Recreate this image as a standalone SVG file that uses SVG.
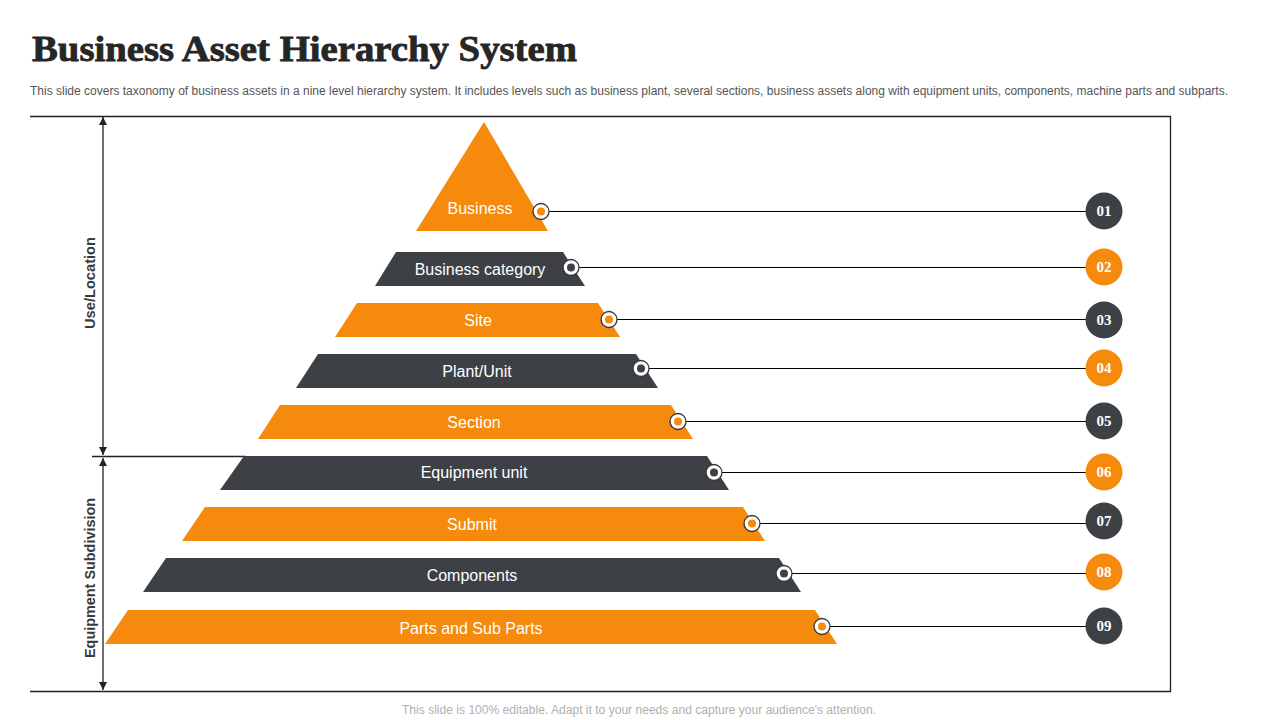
<svg xmlns="http://www.w3.org/2000/svg" width="1280" height="720" viewBox="0 0 1280 720">
<defs>
<style>
.or{fill:#F68A0D}
.dk{fill:#3D4145}
.lbl{font-family:"Liberation Sans",Arial,sans-serif;font-size:16px;fill:#ffffff;text-anchor:middle}
.num{font-family:"Liberation Serif","Times New Roman",serif;font-size:15px;font-weight:bold;fill:#ffffff;text-anchor:middle}
.side{font-family:"Liberation Sans",Arial,sans-serif;font-size:14px;font-weight:bold;fill:#3a3a3a;text-anchor:middle}
.frame{stroke:#222;stroke-width:1.3;fill:none}
.conn{stroke:#000;stroke-width:1;fill:none}
.ring{fill:#ffffff;stroke:#333;stroke-width:1.3}
</style>
<marker id="ah" viewBox="0 0 10 10" refX="10" refY="5" markerWidth="8" markerHeight="8" markerUnits="userSpaceOnUse" orient="auto-start-reverse">
<path d="M0,0 L10,5 L0,10 Z" fill="#222"/>
</marker>
</defs>
<rect width="1280" height="720" fill="#ffffff"/>

<text x="32" y="61" font-family="'Liberation Serif','Times New Roman',serif" font-size="36" font-weight="bold" fill="#262626" stroke="#262626" stroke-width="0.8" textLength="545" lengthAdjust="spacingAndGlyphs">Business Asset Hierarchy System</text>
<text x="30" y="95" font-family="'Liberation Sans',Arial,sans-serif" font-size="12" fill="#555555" textLength="1198" lengthAdjust="spacingAndGlyphs">This slide covers taxonomy of business assets in a nine level hierarchy system. It includes levels such as business plant, several sections, business assets along with equipment units, components, machine parts and subparts.</text>

<g id="frame">
<path class="frame" d="M30,116.5 H1170.5 V691.5 H30"/>
<line class="frame" x1="92" y1="456.5" x2="246" y2="456.5"/>
</g>

<g id="axis">
<line x1="103" y1="117" x2="103" y2="455" stroke="#222" stroke-width="1.3" marker-start="url(#ah)" marker-end="url(#ah)"/>
<line x1="103" y1="458" x2="103" y2="690" stroke="#222" stroke-width="1.3" marker-start="url(#ah)" marker-end="url(#ah)"/>
<text class="side" transform="translate(95,283) rotate(-90)" textLength="92" lengthAdjust="spacingAndGlyphs">Use/Location</text>
<text class="side" transform="translate(95,578) rotate(-90)" textLength="160" lengthAdjust="spacingAndGlyphs">Equipment Subdivision</text>
</g>

<g id="connectors">
<line class="conn" x1="549" y1="211.5" x2="1086" y2="211.5"/>
<line class="conn" x1="579" y1="267.5" x2="1086" y2="267.5"/>
<line class="conn" x1="617" y1="319.5" x2="1086" y2="319.5"/>
<line class="conn" x1="649" y1="368.5" x2="1086" y2="368.5"/>
<line class="conn" x1="686" y1="421.5" x2="1086" y2="421.5"/>
<line class="conn" x1="722" y1="472.5" x2="1086" y2="472.5"/>
<line class="conn" x1="760" y1="523.5" x2="1086" y2="523.5"/>
<line class="conn" x1="792" y1="573.5" x2="1086" y2="573.5"/>
<line class="conn" x1="830" y1="626.5" x2="1086" y2="626.5"/>
</g>

<g id="level1">
<polygon class="or" points="484,122 548,231 416,231"/>
<text class="lbl" x="480" y="214">Business</text>
<circle class="ring" cx="541" cy="211.5" r="8"/><circle class="or" cx="541" cy="211.5" r="4"/>
</g>
<g id="level2">
<polygon class="dk" points="396,252 563,252 585,286 375,286"/>
<text class="lbl" x="480" y="275">Business category</text>
<circle class="ring" cx="571" cy="267.5" r="8"/><circle class="dk" cx="571" cy="267.5" r="4"/>
</g>
<g id="level3">
<polygon class="or" points="357,303 598,303 620,337 335,337"/>
<text class="lbl" x="478" y="326">Site</text>
<circle class="ring" cx="609" cy="319.5" r="8"/><circle class="or" cx="609" cy="319.5" r="4"/>
</g>
<g id="level4">
<polygon class="dk" points="318,354 636,354 658,388 296,388"/>
<text class="lbl" x="477" y="377">Plant/Unit</text>
<circle class="ring" cx="641" cy="368.5" r="8"/><circle class="dk" cx="641" cy="368.5" r="4"/>
</g>
<g id="level5">
<polygon class="or" points="280,405 671,405 693,439 258,439"/>
<text class="lbl" x="474" y="428">Section</text>
<circle class="ring" cx="678" cy="421.5" r="8"/><circle class="or" cx="678" cy="421.5" r="4"/>
</g>
<g id="level6">
<polygon class="dk" points="244,456 707,456 729,490 220,490"/>
<text class="lbl" x="474" y="478">Equipment unit</text>
<circle class="ring" cx="714" cy="472.5" r="8"/><circle class="dk" cx="714" cy="472.5" r="4"/>
</g>
<g id="level7">
<polygon class="or" points="205,507 743,507 765,541 182,541"/>
<text class="lbl" x="472" y="530">Submit</text>
<circle class="ring" cx="752" cy="523.5" r="8"/><circle class="or" cx="752" cy="523.5" r="4"/>
</g>
<g id="level8">
<polygon class="dk" points="166,558 779,558 801,592 143,592"/>
<text class="lbl" x="472" y="581">Components</text>
<circle class="ring" cx="784" cy="573.5" r="8"/><circle class="dk" cx="784" cy="573.5" r="4"/>
</g>
<g id="level9">
<polygon class="or" points="128,610 815,610 837,644 105,644"/>
<text class="lbl" x="471" y="634">Parts and Sub Parts</text>
<circle class="ring" cx="822" cy="626.5" r="8"/><circle class="or" cx="822" cy="626.5" r="4"/>
</g>

<g id="n01"><circle class="dk" cx="1104" cy="211" r="18.5"/><text class="num" x="1104" y="216">01</text></g>
<g id="n02"><circle class="or" cx="1104" cy="267" r="18.5"/><text class="num" x="1104" y="272">02</text></g>
<g id="n03"><circle class="dk" cx="1104" cy="320" r="18.5"/><text class="num" x="1104" y="325">03</text></g>
<g id="n04"><circle class="or" cx="1104" cy="368" r="18.5"/><text class="num" x="1104" y="373">04</text></g>
<g id="n05"><circle class="dk" cx="1104" cy="421" r="18.5"/><text class="num" x="1104" y="426">05</text></g>
<g id="n06"><circle class="or" cx="1104" cy="472" r="18.5"/><text class="num" x="1104" y="477">06</text></g>
<g id="n07"><circle class="dk" cx="1104" cy="521" r="18.5"/><text class="num" x="1104" y="526">07</text></g>
<g id="n08"><circle class="or" cx="1104" cy="572" r="18.5"/><text class="num" x="1104" y="577">08</text></g>
<g id="n09"><circle class="dk" cx="1104" cy="626" r="18.5"/><text class="num" x="1104" y="631">09</text></g>

<text x="639" y="714" font-family="'Liberation Sans',Arial,sans-serif" font-size="12" fill="#b0b0b0" text-anchor="middle" textLength="474" lengthAdjust="spacingAndGlyphs">This slide is 100% editable. Adapt it to your needs and capture your audience's attention.</text>
</svg>
